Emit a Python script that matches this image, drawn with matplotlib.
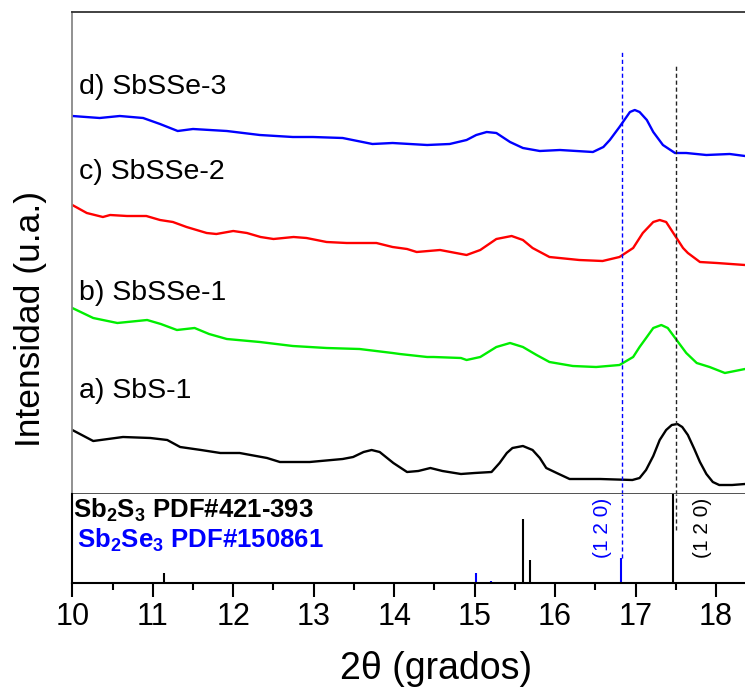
import matplotlib
matplotlib.use("Agg")
import matplotlib.pyplot as plt
from matplotlib import font_manager

# curve data: 2theta (deg) and intensity (a.u., offsets included)
a_x = [10.00, 10.26, 10.63, 10.97, 11.18, 11.34, 11.60, 11.84, 12.08, 12.42, 12.58, 12.95,
       13.36, 13.49, 13.62, 13.72, 13.82, 13.99, 14.16, 14.30, 14.45, 14.60, 14.83, 15.00,
       15.21, 15.31, 15.40, 15.47, 15.60, 15.72, 15.81, 15.89, 16.02, 16.18, 16.56,
       16.96, 17.05, 17.13, 17.22, 17.30, 17.38, 17.45, 17.52, 17.58, 17.65, 17.73, 17.80,
       17.88, 17.96, 18.04, 18.20, 18.36]
a_y = [64, 53, 57, 56, 54, 47, 44, 41, 41, 36, 32, 32,
       35, 37, 42, 44, 42, 31, 22, 23, 26, 23, 20, 21,
       22, 31, 41, 46, 48, 44, 36, 26, 21, 15, 15,
       14, 16, 24, 38, 54, 64, 69, 70, 67, 59, 45, 32,
       20, 12, 9, 9, 10]

b_x = [10.00, 10.26, 10.56, 10.93, 11.10, 11.30, 11.52, 11.70, 11.92, 12.33, 12.74, 13.16,
       13.57, 13.98, 14.07, 14.41, 14.49, 14.83, 14.90, 15.07, 15.27, 15.44, 15.60, 15.77,
       15.93, 16.22, 16.51, 16.80, 16.97, 17.05, 17.14, 17.22, 17.32, 17.40, 17.51, 17.63,
       17.76, 17.92, 18.11, 18.36]
b_y = [186, 176, 171, 174, 170, 164, 166, 160, 155, 152, 148, 146,
       145, 141, 140, 137, 137, 136, 134, 137, 147, 151, 147, 139,
       132, 128, 127, 129, 137, 147, 157, 166, 169, 166, 154, 141,
       131, 127, 121, 125]

c_x = [10.00, 10.18, 10.38, 10.47, 10.68, 10.92, 11.09, 11.25, 11.42, 11.67, 11.79, 12.00,
       12.17, 12.34, 12.50, 12.75, 12.91, 13.16, 13.41, 13.57, 13.78, 13.98, 14.16, 14.28,
       14.57, 14.90, 15.07, 15.27, 15.46, 15.60, 15.72, 15.93, 16.30, 16.59, 16.80, 16.97,
       17.09, 17.22, 17.30, 17.38, 17.59, 17.65, 17.80, 18.01, 18.36]
c_y = [289, 281, 277, 279, 278, 278, 274, 272, 267, 261, 260, 263,
       261, 257, 255, 257, 256, 252, 251, 251, 251, 247, 245, 242,
       244, 239, 244, 255, 258, 254, 246, 237, 234, 233, 237, 246,
       261, 272, 274, 272, 246, 241, 232, 231, 229]

d_x = [10.00, 10.34, 10.59, 10.88, 11.09, 11.31, 11.50, 11.92, 12.33, 12.74, 12.99, 13.36,
       13.73, 13.98, 14.41, 14.69, 14.90, 15.02, 15.15, 15.27, 15.44, 15.60, 15.81, 16.06,
       16.47, 16.60, 16.68, 16.80, 16.93, 16.99, 17.05, 17.14, 17.22, 17.34, 17.49, 17.63,
       17.88, 18.17, 18.36]
d_y = [378, 376, 378, 376, 370, 363, 365, 363, 359, 357, 357, 356,
       350, 351, 349, 350, 354, 359, 362, 361, 352, 346, 343, 344,
       342, 347, 354, 367, 382, 384, 382, 374, 362, 349, 341, 341,
       339, 340, 338]

curves = [(a_x, a_y, "black", "a) SbS-1", 103),
          (b_x, b_y, "#00ee00", "b) SbSSe-1", 201),
          (c_x, c_y, "red", "c) SbSSe-2", 322),
          (d_x, d_y, "blue", "d) SbSSe-3", 407)]

# reference patterns (stick heights)
sb2s3_pos = [11.14, 15.60, 15.69, 17.46]
sb2s3_int = [10, 64, 23, 89]
sb2se3_pos = [10.70, 15.02, 15.20, 16.82]
sb2se3_int = [1.5, 10, 2, 25]


def pick(names):
    for n in names:
        try:
            font_manager.findfont(n, fallback_to_default=False)
            return n
        except Exception:
            pass
    return "DejaVu Sans"


SANS = pick(["Liberation Sans", "Arial"])
plt.rcParams["font.family"] = SANS
plt.rcParams["mathtext.fontset"] = "custom"
plt.rcParams["mathtext.rm"] = SANS
plt.rcParams["mathtext.bf"] = SANS + ":bold"

fig = plt.figure(figsize=(7.45, 6.96), dpi=100)
L = 72.3 / 745
ax = fig.add_axes([L, 1 - 494 / 696, 1 - L, 482.5 / 696])
ax2 = fig.add_axes([L, 1 - 583 / 696, 1 - L, 89 / 696], sharex=ax)

for x, y, col, lab, ly in curves:
    ax.plot(x, y, color=col, lw=1.7, solid_joinstyle="round")
    ax.text(10.08, ly, lab, fontsize=20.5, va="center", ha="left")

ax.set_xlim(10, 18.36)
ax.set_ylim(0, 482.5)
ax.vlines(16.83, 0, 442, color="blue", ls=(0, (3, 2)), lw=1)
ax.vlines(17.50, 0, 428, color="#222222", ls=(0, (3, 2)), lw=1)
ax.tick_params(left=False, labelleft=False, bottom=False, labelbottom=False)
ax.spines["right"].set_visible(False)
ax.spines["left"].set_color("#888888")
ax.spines["top"].set_color("#333333")
ax.spines["bottom"].set_color("#444444")
for s in ax.spines.values():
    s.set_linewidth(1.3)

ax2.vlines(sb2s3_pos, 0, sb2s3_int, color="black", lw=1.5)
ax2.vlines(sb2se3_pos, 0, sb2se3_int, color="blue", lw=1.5)
ax2.vlines(16.83, 25, 89, color="blue", ls=(0, (3, 2)), lw=1)
ax2.vlines(17.50, 53, 89, color="#222222", ls=(0, (3, 2)), lw=1)
ax2.set_ylim(0, 89)
ax2.text(10.01, 66, r"Sb$_\mathbf{2}$S$_\mathbf{3}$ PDF#421-393", fontsize=18.5,
         fontweight="bold", va="baseline", ha="left")
ax2.text(10.06, 35, r"Sb$_\mathbf{2}$Se$_\mathbf{3}$ PDF#150861", fontsize=18.5,
         fontweight="bold", color="blue", va="baseline", ha="left")
ax2.text(16.59, 55, "(1 2 0)", rotation=90, fontsize=15, color="blue", va="center", ha="center")
ax2.text(17.83, 55, "(1 2 0)", rotation=90, fontsize=15, color="black", va="center", ha="center")

ax2.spines["right"].set_visible(False)
ax2.spines["top"].set_visible(False)
for s in ax2.spines.values():
    s.set_linewidth(1.5)
ax2.tick_params(left=False, labelleft=False)
ax2.set_xticks(range(10, 19))
ax2.set_xticks([10.5 + i for i in range(8)], minor=True)
ax2.tick_params(axis="x", which="major", direction="out", length=10, width=1.5, pad=4,
                labelsize=22)
ax2.tick_params(axis="x", which="minor", direction="out", length=5, width=1.5)

ax2.set_xlabel("2θ (grados)", fontsize=27)
ax2.xaxis.set_label_coords(0.541, -0.76)
fig.text(31 / 745, 1 - 319 / 696, "Intensidad (u.a.)", rotation=90, fontsize=25.5,
         va="center", ha="center")

fig.savefig("out.png", dpi=100)
